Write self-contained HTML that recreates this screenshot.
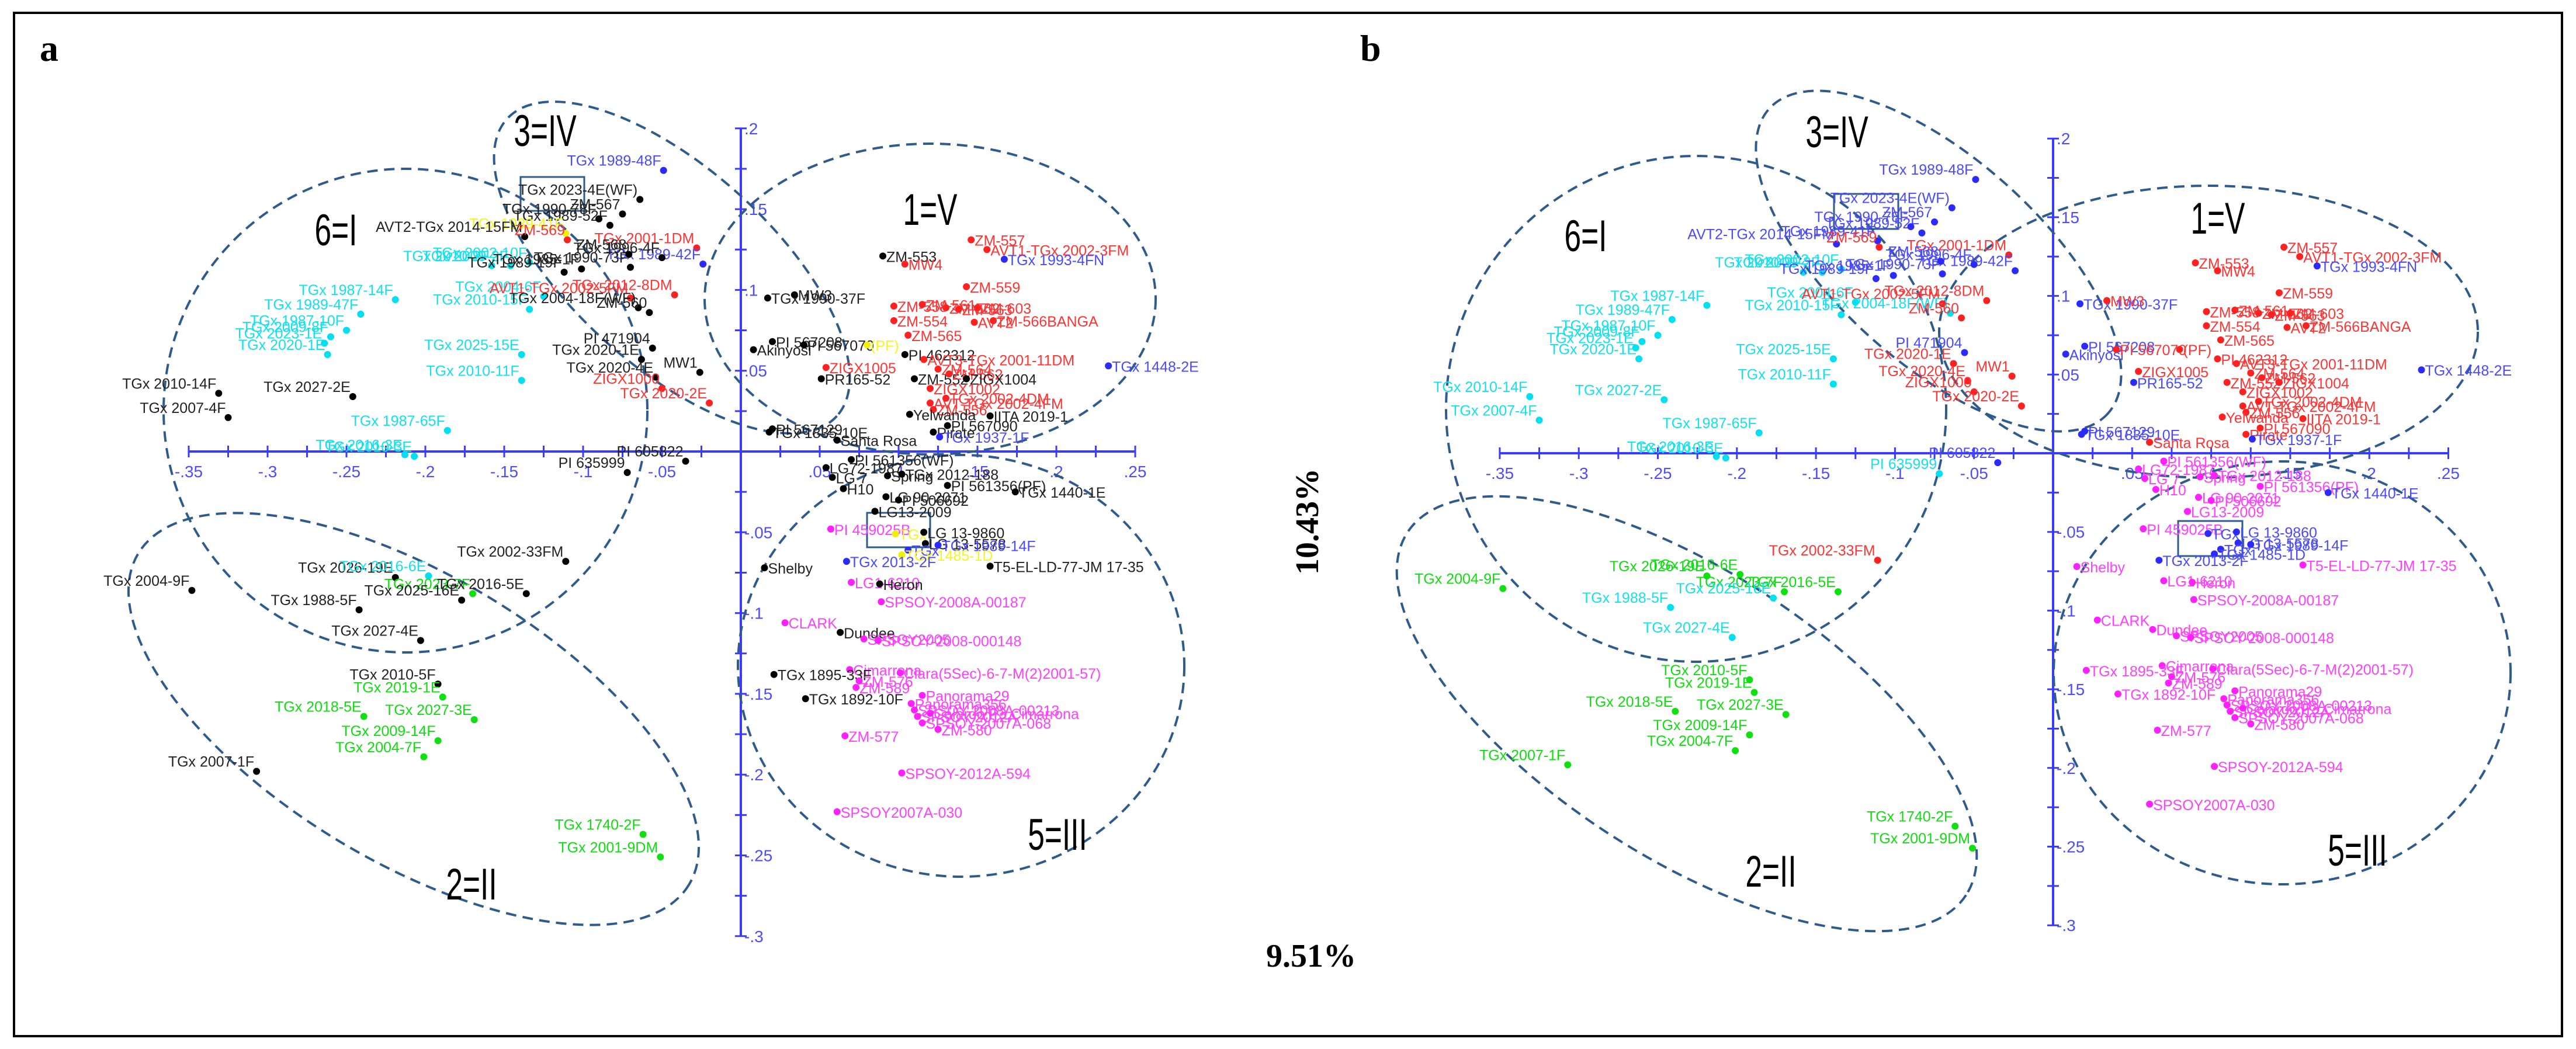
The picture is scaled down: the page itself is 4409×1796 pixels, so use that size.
<!DOCTYPE html>
<html><head><meta charset="utf-8"><style>
html,body{margin:0;padding:0;background:#fff;}
svg{display:block;}
</style></head><body>
<svg id="fig" width="4409" height="1796" viewBox="0 0 4409 1796" xmlns="http://www.w3.org/2000/svg">
<rect x="24" y="22" width="4361" height="1752" fill="#fff" stroke="#000" stroke-width="4"/>
<text x="68" y="104" font-family="Liberation Serif, serif" font-weight="bold" font-size="64">a</text>
<text x="2328" y="104" font-family="Liberation Serif, serif" font-weight="bold" font-size="64">b</text>
<text transform="translate(2256,893) rotate(-90)" text-anchor="middle" font-family="Liberation Serif, serif" font-weight="bold" font-size="56">10.43%</text>
<text x="2244" y="1655" text-anchor="middle" font-family="Liberation Serif, serif" font-weight="bold" font-size="56">9.51%</text>
<g id="pa"></g>
<g id="pb"></g>
</svg>
<script>
const xs=[-0.049,-0.064,-0.075,-0.083,-0.111,-0.090,-0.137,-0.110,-0.028,-0.024,-0.050,-0.158,-0.146,-0.134,-0.112,-0.101,-0.070,-0.071,-0.134,-0.125,-0.042,-0.070,-0.065,-0.058,-0.219,-0.241,-0.250,-0.260,-0.264,-0.262,-0.139,-0.139,-0.056,-0.063,-0.026,-0.054,-0.050,-0.020,-0.331,-0.325,-0.246,-0.186,-0.207,-0.213,-0.035,-0.072,
0.146,0.156,0.167,0.090,0.104,0.143,0.017,0.034,0.097,0.115,0.130,0.138,0.150,0.097,0.148,0.160,0.008,0.020,0.040,0.080,0.106,0.104,0.116,0.233,0.054,0.051,0.110,0.125,0.132,0.143,0.120,0.120,0.130,0.122,0.107,0.158,0.131,0.122,0.126,0.018,0.020,0.061,
0.070,0.054,0.058,0.093,0.102,0.131,0.065,0.174,0.092,0.100,0.085,0.057,0.098,0.116,0.117,0.125,0.106,0.102,0.067,0.158,0.015,0.070,0.088,0.089,0.028,0.063,0.078,0.087,0.069,0.101,0.021,0.075,0.073,0.041,0.115,0.108,0.110,0.112,0.120,0.115,0.125,0.066,0.102,0.061,
-0.111,-0.219,-0.198,-0.170,-0.136,-0.177,-0.242,-0.203,-0.348,-0.192,-0.189,-0.239,-0.169,-0.192,-0.201,-0.307,-0.062,-0.051];
const ys=[0.174,0.156,0.147,0.140,0.135,0.144,0.133,0.131,0.126,0.116,0.120,0.115,0.115,0.117,0.111,0.113,0.114,0.122,0.088,0.096,0.097,0.095,0.089,0.086,0.094,0.085,0.075,0.071,0.067,0.060,0.060,0.044,0.064,0.057,0.049,0.046,0.039,0.030,0.036,0.021,0.034,0.013,-0.003,-0.002,-0.006,-0.013,
0.131,0.125,0.119,0.121,0.116,0.102,0.095,0.097,0.090,0.091,0.089,0.088,0.089,0.081,0.080,0.081,0.063,0.068,0.066,0.066,0.072,0.060,0.057,0.053,0.052,0.045,0.045,0.051,0.048,0.045,0.039,0.030,0.033,0.026,0.023,0.022,0.016,0.012,0.009,0.012,0.014,0.007,
-0.005,-0.010,-0.016,-0.015,-0.014,-0.021,-0.023,-0.025,-0.028,-0.030,-0.037,-0.048,-0.051,-0.050,-0.057,-0.058,-0.061,-0.064,-0.068,-0.071,-0.072,-0.081,-0.082,-0.093,-0.106,-0.112,-0.116,-0.117,-0.135,-0.137,-0.138,-0.142,-0.146,-0.153,-0.151,-0.156,-0.160,-0.164,-0.162,-0.168,-0.172,-0.176,-0.199,-0.223,
-0.068,-0.078,-0.077,-0.088,-0.088,-0.092,-0.098,-0.117,-0.086,-0.144,-0.152,-0.164,-0.166,-0.179,-0.189,-0.198,-0.237,-0.251];
const labels=["TGx 1989-48F","TGx 2023-4E(WF)","ZM-567","TGx 1989-52F","TGx 1989-41F","TGx 1990-78F","AVT2-TGx 2014-15FM","ZM-569","TGx 2001-1DM","TGx 1989-42F","TGx 1996-4F","TGx 2010-3F","TGx 2009-2F","TGx 2002-10F","TGx 1989-19F","TGx 1985-1F","TGx 1990-73F","ZM-568","TGx 2010-15F","TGx 2004-6F","TGx 2012-8DM","AVT1-TGx 2002-5FM","TGx 2004-18F(WF)","ZM-560","TGx 1987-14F","TGx 1989-47F","TGx 1987-10F","TGx 2009-8F","TGx 2023-1E","TGx 2020-1E","TGx 2025-15E","TGx 2010-11F","PI 471904","TGx 2020-1E","MW1","TGx 2020-4E","ZIGX1000","TGx 2020-2E","TGx 2010-14F","TGx 2007-4F","TGx 2027-2E","TGx 1987-65F","TGx 2010-3E","TGx 2016-3E","PI 605822","PI 635999",
"ZM-557","AVT1-TGx 2002-3FM","TGx 1993-4FN","ZM-553","MW4","ZM-559","TGx 1990-37F","MW3","ZM-558","ZM-561","ZM-562","ZM-563","ZM-603","ZM-554","AVT2","ZM-566BANGA","Akinyosi","PI 567208","PI 567070","(PF)","ZM-565","PI 462312","AVT3-TGx 2001-11DM","TGx 1448-2E","ZIGX1005","PR165-52","ZM-552","ZM-564","ZM-562","ZIGX1004","ZIGX1002","AVT-TGx 2002-4FM","TGx 2002-4DM","ZM-556","Yelwanda","IITA 2019-1","PI 567090","Pirate","TGx 1937-1F","TGx 1835-10E","PI 567129","Santa Rosa",
"PI 561356(WF)","LG72-1987","LG 7","Spring","TGx 2012-188","PI 561356(PF)","H10","TGx 1440-1E","LG 90-2071","PI 506692","LG13-2009","PI 459025B","TGx","LG 13-9860","LG 13-5578","TGx 1989-14F","TGx","TGx 1485-1D","TGx 2013-2F","T5-EL-LD-77-JM 17-35","Shelby","LG1-6210","Heron","SPSOY-2008A-00187","CLARK","Dundee","SPSOY2005","SPSOY-2008-000148","Cimarrona","Clara(5Sec)-6-7-M(2)2001-57)","TGx 1895-33F","ZM-576","ZM-589","TGx 1892-10F","Panorama29","Panorama356","SPSOY-2008A-00213","SPSOY-2012A","Calardo.P3.Cimarrona","SPSOY-2007A-068","ZM-580","ZM-577","SPSOY-2012A-594","SPSOY2007A-030",
"TGx 2002-33FM","TGx 2026-19E","TGx 2016-6E","TGx 2023-7F","TGx 2016-5E","TGx 2025-16E","TGx 1988-5F","TGx 2027-4E","TGx 2004-9F","TGx 2010-5F","TGx 2019-1E","TGx 2018-5E","TGx 2027-3E","TGx 2009-14F","TGx 2004-7F","TGx 2007-1F","TGx 1740-2F","TGx 2001-9DM"];
const groupA=("bkkkykkrrb"+"kccckkkkcc"+"rrkkcccccc"+"cckkkkrrkk"+"kccckk"+
 "rrbkrrkkrr"+"rrrrrrkkky"+"rkrbrkkrrk"+"rrrrkkkkbk"+"kk"+
 "kkkkkkkkkk"+"kmykkbbybk"+"kmkmmkmmmm"+"kmmkmmmmmm"+"mmmm"+
 "kkcgkkkkkk"+"gggggkgg").split("");
const groupB=("bbbbbbbrrb"+"bcccbbbbcc"+"rrcrcccccc"+"ccbrrrrrcc"+"ccccbc"+
 "rrbrrrbrrr"+"rrrrrrbbrr"+"rrrbrbrrrr"+"rrrrrrrrbb"+"br"+
 "mmmmmmmbmm"+"mmbbbbbbbm"+"mmmmmmmmmm"+"mmmmmmmmmm"+"mmmm"+
 "rggggcccg"+"ggggggggg").split("");
const xTicks=[-0.35,-0.3,-0.25,-0.2,-0.15,-0.1,-0.05,0.05,0.1,0.15,0.2,0.25];
const xTickLabels=["-.35","-.3","-.25","-.2","-.15","-.1","-.05",".05",".1",".15",".2",".25"];
const yTicks=[0.2,0.15,0.1,0.05,-0.05,-0.1,-0.15,-0.2,-0.25,-0.3];
const yTickLabels=[".2",".15",".1",".05","-.05","-.1","-.15","-.2","-.25","-.3"];
const ellipseNames=["6=I","3=IV","1=V","5=III","2=II"];

const COL={k:"#000000",c:"#00e0f0",r:"#ff2020",b:"#2b2bff",g:"#10e010",m:"#ff20ff",y:"#f0f000"};
const TCOL={k:"#222",c:"#14e0ee",r:"#ff3535",b:"#4a4aff",g:"#10dd10",m:"#ff40ff",y:"#f5f520"};
const NS="http://www.w3.org/2000/svg";
function mk(parent,tag,attrs){const e=document.createElementNS(NS,tag);for(const k in attrs)e.setAttribute(k,attrs[k]);parent.appendChild(e);return e;}

const panels=[
 {g:"pa",x0:1268,sx:2700,y0:773,sy:2766,cols:groupA,
  ell:[[694,703,414,414,0],[1150,458,380,170,42],[1592,512,386,266,0],[1645,1140,382,361,0],[708,1231,550,245,31]],
  lab:[[575,420],[933,250],[1592,385],[1810,1455],[807,1540]],
  boxes:[[891,303,109,58],[1484,878,108,59]]},
 {g:"pb",x0:3514,sx:2706,y0:776,sy:2694,cols:groupB,
  ell:[[2903,700,428,433,0],[3318,447,390,175,42],[3780,568,461,250,0],[3906,1152,391,362,0],[2887,1222,570,245,33]],
  lab:[[2714,430],[3144,252],[3796,400],[4035,1482],[3031,1518]],
  boxes:[[3139,332,110,60],[3728,892,110,60]]}
];

panels.forEach(function(P,pi){
 const g=document.getElementById(P.g);
 const X=v=>P.x0+v*P.sx, Y=v=>P.y0-v*P.sy;
 const ax=mk(g,"g",{});
 
 
 const xl=mk(ax,"line",{x1:X(-0.35),x2:X(0.25),y1:Y(0),y2:Y(0),stroke:"#3b3bff","stroke-width":4});
 
 
 const yl=mk(ax,"line",{x1:X(0),x2:X(0),y1:Y(0.2),y2:Y(-0.3),stroke:"#3b3bff","stroke-width":4});
 
 
 for(let i=0;i<=24;i++){const v=-0.35+i*0.025;
  const t=mk(ax,"line",{x1:X(v),x2:X(v),y1:Y(0)-10,y2:Y(0)+10,stroke:"#3b3bff","stroke-width":3});
  
  }
 for(let i=0;i<=20;i++){const v=0.2-i*0.025;
  const t=mk(ax,"line",{x1:X(0)-10,x2:X(0)+10,y1:Y(v),y2:Y(v),stroke:"#3b3bff","stroke-width":3});
  
  }
 xTicks.forEach((v,i)=>{const t=mk(ax,"text",{x:X(v),y:Y(0)+44,"text-anchor":"middle","font-family":"Liberation Sans, sans-serif","font-size":28,fill:"#4d4dff"});
  t.textContent=xTickLabels[i];
  
  });
 yTicks.forEach((v,i)=>{const t=mk(ax,"text",{x:X(0)+6,y:Y(v)+10,"font-family":"Liberation Sans, sans-serif","font-size":28,fill:"#4d4dff"});
  t.textContent=yTickLabels[i];
  
  });
 P.ell.forEach((e,i)=>{const el=mk(g,"ellipse",{cx:e[0],cy:e[1],rx:e[2],ry:e[3],transform:"rotate("+e[4]+" "+e[0]+" "+e[1]+")",fill:"none",stroke:"#2f5b8c","stroke-width":4,"stroke-dasharray":"18 11"});
  
  
  const t=mk(g,"text",{x:0,y:0,"text-anchor":"middle","font-family":"Liberation Sans, sans-serif","font-size":66,fill:"#000",transform:"translate("+P.lab[i][0]+","+P.lab[i][1]+") scale(0.78,1.15)"});
  t.textContent=ellipseNames[i];
  
  });
 P.boxes.forEach(b=>{const r=mk(g,"rect",{x:b[0],y:b[1],width:b[2],height:b[3],fill:"none",stroke:"#2f5b8c","stroke-width":3});
  
  });
 const pts=mk(g,"g",{});
 
 
 for(let i=0;i<xs.length;i++){
  const c=P.cols[i]||"k";
  const px=X(xs[i]),py=Y(ys[i]);
  const left=xs[i]<0;
  const t=mk(pts,"text",{x:left?px-4:px+6,y:left?py-8:py+10,"text-anchor":left?"end":"start","font-family":"Liberation Sans, sans-serif","font-size":25,fill:TCOL[c]});
  t.textContent=labels[i];
  
  
  const d=mk(pts,"circle",{cx:px,cy:py,r:6,fill:COL[c]});
  
  
 }
});
</script>
</body></html>
